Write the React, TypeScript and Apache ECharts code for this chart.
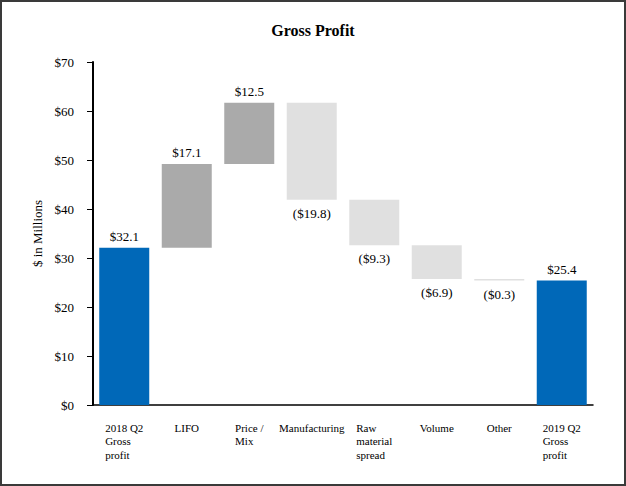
import React, { useEffect, useRef } from "react";
import * as echarts from "echarts";

const categories = [
  "2018 Q2\nGross\nprofit",
  "LIFO",
  "Price /\nMix",
  "Manufacturing",
  "Raw\nmaterial\nspread",
  "Volume",
  "Other",
  "2019 Q2\nGross\nprofit",
];
const changes = [32.1, 17.1, 12.5, -19.8, -9.3, -6.9, -0.3, 25.4];
const kinds = ["total", "up", "up", "down", "down", "down", "down", "total"];
const yTicks = [0, 10, 20, 30, 40, 50, 60, 70];

const COLORS: Record<string, string> = {
  total: "#0068B8",
  up: "#AAAAAA",
  down: "#E0E0E0",
};
const FONT = '"Liberation Serif", "Times New Roman", serif';

export default function App() {
  const ref = useRef<HTMLDivElement>(null);
  useEffect(() => {
    if (!ref.current) return;
    const chart = echarts.init(ref.current, undefined, { renderer: "svg" });

    const base: number[] = [];
    const heights: any[] = [];
    let running = 0;
    changes.forEach((v, i) => {
      const k = kinds[i];
      let b = 0;
      let h = 0;
      if (k === "total") {
        b = 0;
        h = v;
        running = v;
      } else if (v >= 0) {
        b = running;
        h = v;
        running += v;
      } else {
        b = running + v;
        h = -v;
        running += v;
      }
      base.push(+b.toFixed(2));
      heights.push({
        value: +h.toFixed(2),
        itemStyle: { color: COLORS[k] },
        label: {
          position: v >= 0 ? "top" : "bottom",
          distance: v >= 0 ? 5 : 7,
        },
      });
    });

    const rich: Record<string, any> = {
      l: { align: "left", fontFamily: FONT, fontSize: 11, lineHeight: 13.5, color: "#000" },
    };

    chart.setOption({
      animation: false,
      backgroundColor: "#fff",
      textStyle: { fontFamily: FONT },
      title: {
        text: "Gross Profit",
        left: "center",
        top: 17,
        textStyle: { fontFamily: FONT, fontSize: 16, fontWeight: "bold", color: "#000" },
      },
      graphic: [
        {
          type: "rect",
          shape: { x: 1, y: 1, width: 624, height: 484 },
          style: { fill: "none", stroke: "#3a3a3a", lineWidth: 2 },
          silent: true,
        },
      ],
      grid: { left: 93, right: 33, top: 62, bottom: 81 },
      xAxis: {
        type: "category",
        data: categories,
        axisLine: { lineStyle: { color: "#000", width: 1.5 } },
        axisTick: { alignWithLabel: true, length: 6, lineStyle: { color: "#000", width: 1 } },
        axisLabel: {
          interval: 0,
          margin: 16,
          align: "center",
          verticalAlign: "top",
          formatter: (val: string) =>
            val
              .split("\n")
              .map((s) => `{l|${s}}`)
              .join("\n"),
          rich,
        },
      },
      yAxis: {
        type: "value",
        min: yTicks[0],
        max: yTicks[yTicks.length - 1],
        interval: 10,
        name: "$ in Millions",
        nameLocation: "middle",
        nameGap: 49,
        nameTextStyle: { fontFamily: FONT, fontSize: 13, color: "#000" },
        axisLine: { show: true, lineStyle: { color: "#000", width: 2 } },
        axisTick: { show: true, length: 6, lineStyle: { color: "#000", width: 1 } },
        splitLine: { show: false },
        axisLabel: {
          margin: 19,
          fontFamily: FONT,
          fontSize: 13,
          color: "#000",
          formatter: (v: number) => "$" + v,
        },
      },
      series: [
        {
          type: "bar",
          stack: "w",
          data: base,
          itemStyle: { color: "transparent" },
          silent: true,
          barWidth: 50,
        },
        {
          type: "bar",
          stack: "w",
          data: heights,
          barWidth: 50,
          label: {
            show: true,
            fontFamily: FONT,
            fontSize: 13,
            color: "#000",
            formatter: (p: any) => {
              const v = changes[p.dataIndex];
              return v >= 0 ? `$${v.toFixed(1)}` : `($${Math.abs(v).toFixed(1)})`;
            },
          },
        },
      ],
    });
    return () => chart.dispose();
  }, []);

  return (
    <div
      ref={ref}
      style={{ position: "absolute", left: 0, top: 0, width: 626, height: 486 }}
    />
  );
}
